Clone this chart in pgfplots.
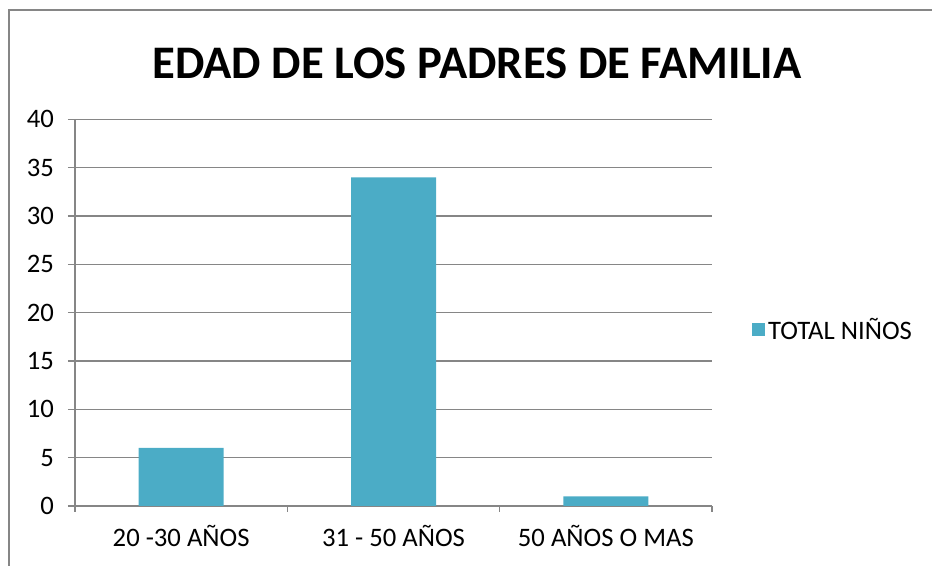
\documentclass[border=0pt]{standalone}
\usepackage{fontspec}
\setmainfont{Carlito}
\usepackage{pgfplots}
\pgfplotsset{compat=1.18}
\definecolor{barblue}{HTML}{4BACC6}
\definecolor{gridgray}{HTML}{868686}

\begin{document}
\begin{tikzpicture}[x=0.75pt,y=0.75pt]
% canvas in reference pixels (932 x 566), origin bottom left
\path[use as bounding box] (0,0) rectangle (932,566);
\draw[gridgray, line width=1.1pt] (9,0) -- (9,556) -- (932,556);
\node[font=\fontsize{35}{40}\selectfont\bfseries] at (477,503) {EDAD DE LOS PADRES DE FAMILIA};

\begin{axis}[
    at={(56.25pt,45pt)}, anchor=south west,
    scale only axis,
    width=477.75pt, height=290pt,
    xmin=0, xmax=3,
    ymin=0, ymax=40,
    ytick={0,5,...,40},
    xtick={0.5,1.5,2.5},
    xticklabels={20 -30 AÑOS, 31 - 50 AÑOS, 50 AÑOS O MAS},
    minor xtick={0,1,2,3},
    major x tick style={draw=none},
    minor x tick style={gridgray, line width=1.1pt},
    y tick style={gridgray, line width=1.1pt},
    tick align=outside,
    major tick length=5.25pt,
    minor tick length=4.5pt,
    ymajorgrids=true,
    grid style={gridgray, line width=1.1pt},
    axis x line*=bottom,
    axis y line*=left,
    axis line style={gridgray, line width=1.1pt, -},
    tick label style={font=\fontsize{20}{22}\selectfont},
    /pgf/number format/assume math mode=true,
    yticklabel style={xshift=-7pt},
    xticklabel style={yshift=-6pt},
    legend style={at={(1.063,0.456)}, anchor=west, draw=none, fill=none,
        font=\fontsize{20}{22}\selectfont, inner sep=0pt,
        legend cell align=left},
    legend image code/.code={\fill[barblue] (0pt,-4.9pt) rectangle (9.8pt,4.9pt);},
]
\addplot[ybar, bar width=63.75pt, fill=barblue, draw=none, bar shift=0pt]
    coordinates {(0.5,6) (1.5,34) (2.5,1)};
\addlegendentry{TOTAL NIÑOS}
\end{axis}
\end{tikzpicture}
\end{document}
